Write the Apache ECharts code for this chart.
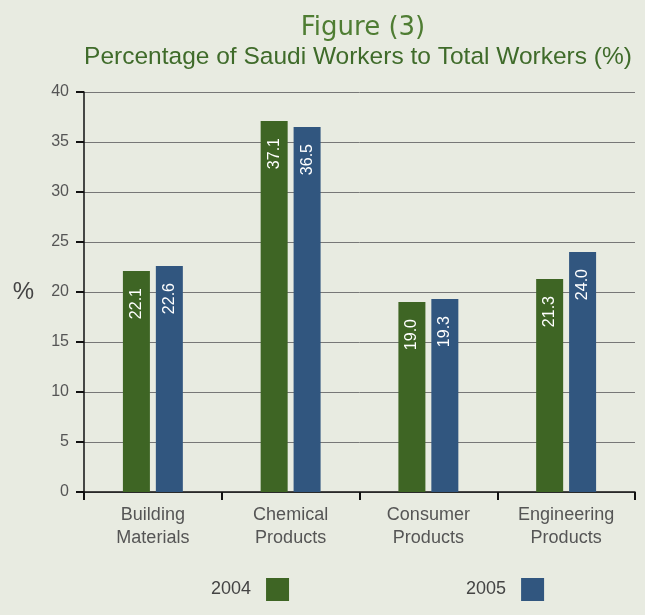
<!DOCTYPE html>
<html>
<head>
<meta charset="utf-8">
<script src="https://cdn.jsdelivr.net/npm/echarts@6/dist/echarts.min.js"></script>
<style>
html,body{margin:0;padding:0;background:#e8ebe1;}
#c{width:645px;height:615px;}
</style>
</head>
<body>
<div id="c"></div>
<script>
const categories = ['Building\nMaterials', 'Chemical\nProducts', 'Consumer\nProducts', 'Engineering\nProducts'];
const seriesNames = ['2004', '2005'];
const values2004 = [22.1, 37.1, 19.0, 21.3];
const values2005 = [22.6, 36.5, 19.3, 24.0];
const yTicks = [0, 5, 10, 15, 20, 25, 30, 35, 40];

const chart = echarts.init(document.getElementById('c'));
const labelCfg = {
  show: true,
  position: 'insideTop',
  distance: 17,
  rotate: 90,
  align: 'right',
  verticalAlign: 'middle',
  color: '#ffffff',
  fontSize: 16,
  fontFamily: 'Liberation Sans',
  formatter: p => p.value.toFixed(1)
};
chart.setOption({
  backgroundColor: '#e8ebe1',
  animation: false,
  title: [{
    text: 'Figure (3)',
    left: 358, textAlign: 'center', top: 10,
    textStyle: {color: '#4f7d33', fontSize: 26, fontWeight: 'normal', fontFamily: 'DejaVu Sans'}
  }, {
    text: 'Percentage of Saudi Workers to Total Workers (%)',
    left: 358, textAlign: 'center', top: 40,
    textStyle: {color: '#3f6b2a', fontSize: 24.5, fontWeight: 'normal', fontFamily: 'Liberation Sans'}
  }],
  legend: {
    data: seriesNames,
    bottom: 9,
    left: 206,
    align: 'right',
    itemWidth: 23,
    itemHeight: 23,
    itemGap: 177,
    icon: 'rect',
    textStyle: {color: '#444', fontSize: 18, fontFamily: 'Liberation Sans', padding: [0, 10, 0, 0]}
  },
  grid: {left: 84, right: 10, top: 92, bottom: 123},
  xAxis: {
    type: 'category',
    data: categories,
    axisLine: {lineStyle: {color: '#111', width: 1.5}},
    axisTick: {show: true, length: 8, lineStyle: {color: '#111', width: 2}},
    axisLabel: {color: '#555', fontSize: 18, lineHeight: 23, margin: 12, fontFamily: 'Liberation Sans'}
  },
  yAxis: {
    type: 'value',
    min: yTicks[0], max: yTicks[yTicks.length - 1], interval: 5,
    name: '%',
    nameLocation: 'middle',
    nameRotate: 0,
    nameGap: 50,
    nameTextStyle: {color: '#444', fontSize: 24, fontFamily: 'Liberation Sans'},
    axisLine: {show: true, lineStyle: {color: '#111', width: 1.5}},
    axisTick: {show: true, length: 8, lineStyle: {color: '#111', width: 2}},
    axisLabel: {color: '#555', fontSize: 16, margin: 15, fontFamily: 'Liberation Sans'},
    splitLine: {lineStyle: {color: '#777', width: 1}}
  },
  series: [{
    name: seriesNames[0], type: 'bar', data: values2004,
    itemStyle: {color: '#3e6524'},
    barWidth: 27, barGap: '22%',
    label: labelCfg
  }, {
    name: seriesNames[1], type: 'bar', data: values2005,
    itemStyle: {color: '#31567f'},
    barWidth: 27, barGap: '22%',
    label: labelCfg
  }]
});
chart.setOption({title: [{}, {left: 353}]});
</script>
</body>
</html>
